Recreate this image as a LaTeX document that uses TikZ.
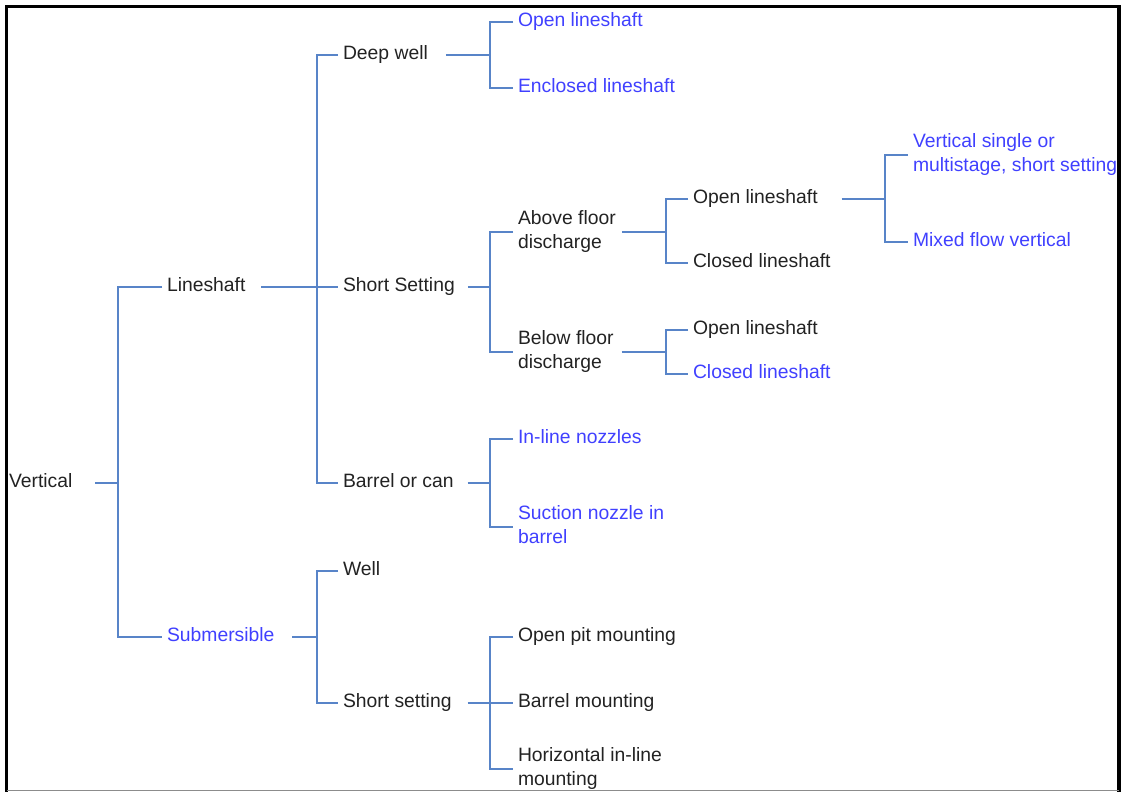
\documentclass[tikz,border=0pt]{standalone}
\usepackage{fontspec}
\setmainfont{Liberation Sans}
\usetikzlibrary{calc}
\definecolor{linkblue}{RGB}{88,132,200}
\definecolor{leafblue}{RGB}{64,64,255}
\definecolor{txtdark}{RGB}{34,34,34}
\definecolor{framegray}{RGB}{140,140,140}

\begin{document}
\begin{tikzpicture}[x=0.75pt,y=-0.75pt,
  base/.style={anchor=west, inner xsep=3.75pt, inner ysep=0pt, outer sep=0pt,
    font=\fontsize{14.5}{17.6}\selectfont, text=txtdark},
  one/.style={base, text height=12.32pt, text depth=5.28pt},
  two/.style={base, align=left},
  hi/.style={text=leafblue},
  link/.style={draw=linkblue, line width=1.4pt}]

\useasboundingbox (0,0) rectangle (1124,792);

% frame
\draw[black, line width=2.3pt] (6.5,792) -- (6.5,6.5) -- (1119,6.5) -- (1119,792);
\draw[framegray, line width=1pt] (6.5,790.8) -- (1119,790.8);

% level 0
\node[one] (vert) at (4,483) {Vertical};

% level 1
\node[one] (lineshaft) at (162,287) {Lineshaft};
\node[one,hi] (subm) at (162,637) {Submersible};

% level 2
\node[one] (deepwell) at (338,55) {Deep well};
\node[one] (shortset) at (338,287) {Short Setting};
\node[one] (barrel) at (338,483) {Barrel or can};
\node[one] (well) at (338,571) {Well};
\node[one] (shortsetb) at (338,703) {Short setting};

% level 3
\node[one,hi] (openA) at (513,22) {Open lineshaft};
\node[one,hi] (enclosed) at (513,88) {Enclosed lineshaft};
\node[two] (above) at (513,232) {Above floor\strut\\discharge\strut};
\node[two] (below) at (513,352) {Below floor\strut\\discharge\strut};
\node[one,hi] (inline) at (513,439) {In-line nozzles};
\node[two,hi] (suction) at (513,527) {Suction nozzle in\strut\\barrel\strut};
\node[one] (openpit) at (513,637) {Open pit mounting};
\node[one] (barrelm) at (513,703) {Barrel mounting};
\node[two] (horiz) at (513,769) {Horizontal in-line\strut\\mounting\strut};

% level 4
\node[one] (openB) at (688,199) {Open lineshaft};
\node[one] (closedB) at (688,263) {Closed lineshaft};
\node[one] (openC) at (688,330) {Open lineshaft};
\node[one,hi] (closedC) at (688,374) {Closed lineshaft};

% level 5
\node[two,hi] (vsingle) at (908,155) {Vertical single or\strut\\multistage, short setting\strut};
\node[one,hi] (mixed) at (908,242) {Mixed flow vertical};

% junction columns
\coordinate (j0) at (118,0);
\coordinate (j1) at (317,0);
\coordinate (j2) at (490,0);
\coordinate (j4) at (666,0);
\coordinate (j5) at (885,0);

% Vertical
\draw[link] ($(vert.east)+(18,0)$) -- (vert.east -| j0);
\draw[link] (lineshaft.west) -| (subm.west -| j0) -- (subm.west);

% Lineshaft
\draw[link] ($(lineshaft.east)+(11,0)$) -- (lineshaft.east -| j1);
\draw[link] (deepwell.west) -| (barrel.west -| j1) -- (barrel.west);
\draw[link] (shortset.west -| j1) -- (shortset.west);

% Deep well
\draw[link] ($(deepwell.east)+(13,0)$) -- (deepwell.east -| j2);
\draw[link] (openA.west) -| (enclosed.west -| j2) -- (enclosed.west);

% Short Setting
\draw[link] ($(shortset.east)+(8,0)$) -- (shortset.east -| j2);
\draw[link] (above.west) -| (below.west -| j2) -- (below.west);

% Above floor discharge
\draw[link] ($(above.east)+(1,0)$) -- (above.east -| j4);
\draw[link] (openB.west) -| (closedB.west -| j4) -- (closedB.west);

% Open lineshaft (above floor)
\draw[link] ($(openB.east)+(19,0)$) -- (openB.east -| j5);
\draw[link] (vsingle.west) -| (mixed.west -| j5) -- (mixed.west);

% Below floor discharge
\draw[link] ($(below.east)+(3,0)$) -- (below.east -| j4);
\draw[link] (openC.west) -| (closedC.west -| j4) -- (closedC.west);

% Barrel or can
\draw[link] ($(barrel.east)+(9,0)$) -- (barrel.east -| j2);
\draw[link] (inline.west) -| (suction.west -| j2) -- (suction.west);

% Submersible
\draw[link] ($(subm.east)+(13,0)$) -- (subm.east -| j1);
\draw[link] (well.west) -| (shortsetb.west -| j1) -- (shortsetb.west);

% Short setting
\draw[link] ($(shortsetb.east)+(11,0)$) -- (shortsetb.east -| j2);
\draw[link] (openpit.west) -| (horiz.west -| j2) -- (horiz.west);
\draw[link] (barrelm.west -| j2) -- (barrelm.west);

\end{tikzpicture}
\end{document}
